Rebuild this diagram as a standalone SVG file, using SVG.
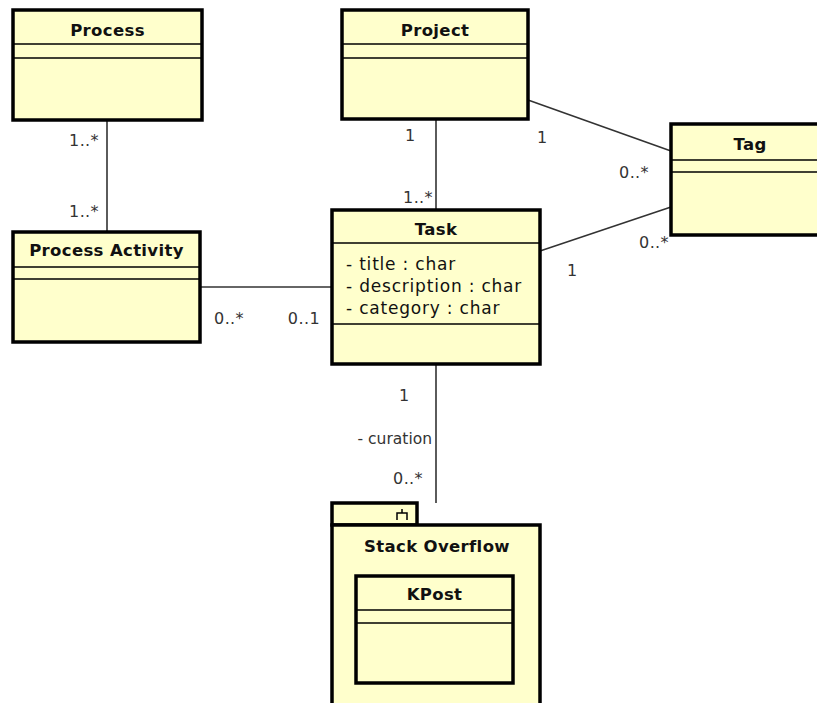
<svg xmlns="http://www.w3.org/2000/svg" width="817" height="703" viewBox="0 0 817 703">
  <style>
    .box { fill: #ffffcc; stroke: #000; stroke-width: 3.5; }
    .sep { stroke: #000; stroke-width: 1.5; fill: none; }
    .name { font-family: "DejaVu Sans", sans-serif; font-size: 16.5px; font-weight: bold; letter-spacing: 0.35px; fill: #111; text-anchor: middle; }
    .attr { font-family: "DejaVu Sans", sans-serif; font-size: 17px; letter-spacing: 0.8px; fill: #111; }
    .lbl { font-family: "DejaVu Sans", sans-serif; font-size: 16px; letter-spacing: 0.4px; fill: #333; }
    .role { letter-spacing: 0; font-size: 15.5px; }
    .end { text-anchor: end; }
    .conn line { stroke: #333; stroke-width: 1.6; }
  </style>
  <rect width="817" height="703" fill="#fff"/>

  <!-- associations -->
  <g id="connectors" class="conn">
    <line x1="107" y1="120" x2="107" y2="232"/>
    <line x1="436" y1="119" x2="436" y2="210"/>
    <line x1="528" y1="100" x2="671" y2="151"/>
    <line x1="540" y1="251" x2="671" y2="207"/>
    <line x1="200" y1="287" x2="332" y2="287"/>
    <line x1="436" y1="364" x2="436" y2="503"/>
  </g>

  <!-- multiplicities and role names -->
  <g id="labels">
    <text class="lbl end" x="99" y="146">1..*</text>
    <text class="lbl end" x="99" y="217">1..*</text>
    <text class="lbl" x="405" y="141">1</text>
    <text class="lbl end" x="433" y="203">1..*</text>
    <text class="lbl" x="537" y="143">1</text>
    <text class="lbl end" x="649" y="178">0..*</text>
    <text class="lbl end" x="669" y="248">0..*</text>
    <text class="lbl" x="567" y="276">1</text>
    <text class="lbl end" x="244" y="324">0..*</text>
    <text class="lbl end" x="320" y="324">0..1</text>
    <text class="lbl" x="399" y="401">1</text>
    <text class="lbl role end" x="432" y="444">- curation</text>
    <text class="lbl end" x="423" y="484">0..*</text>
  </g>

  <g id="process">
    <rect class="box" x="13" y="10" width="189" height="110"/>
    <line class="sep" x1="13" y1="44" x2="202" y2="44"/>
    <line class="sep" x1="13" y1="58" x2="202" y2="58"/>
    <text class="name" x="107.5" y="36">Process</text>
  </g>

  <g id="project">
    <rect class="box" x="342" y="10" width="186" height="109"/>
    <line class="sep" x1="342" y1="44" x2="528" y2="44"/>
    <line class="sep" x1="342" y1="58" x2="528" y2="58"/>
    <text class="name" x="435" y="36">Project</text>
  </g>

  <g id="tag">
    <rect class="box" x="671" y="124" width="160" height="111"/>
    <line class="sep" x1="671" y1="160" x2="831" y2="160"/>
    <line class="sep" x1="671" y1="172" x2="831" y2="172"/>
    <text class="name" x="750" y="150">Tag</text>
  </g>

  <g id="process-activity">
    <rect class="box" x="13" y="232" width="187" height="110"/>
    <line class="sep" x1="13" y1="267" x2="200" y2="267"/>
    <line class="sep" x1="13" y1="279" x2="200" y2="279"/>
    <text class="name" x="106.5" y="256">Process Activity</text>
  </g>

  <g id="task">
    <rect class="box" x="332" y="210" width="208" height="154"/>
    <line class="sep" x1="332" y1="243" x2="540" y2="243"/>
    <line class="sep" x1="332" y1="324" x2="540" y2="324"/>
    <text class="name" x="436" y="235">Task</text>
    <text class="attr" x="346" y="270">- title : char</text>
    <text class="attr" x="346" y="292">- description : char</text>
    <text class="attr" x="346" y="314">- category : char</text>
  </g>

  <g id="stack-overflow">
    <rect class="box" x="332" y="503" width="85" height="22"/>
    <path class="sep" d="M397 520 V513 H407 V520 M402 513 V509"/>
    <rect class="box" x="332" y="525" width="208" height="190"/>
    <text class="name" x="437" y="552">Stack Overflow</text>
    <g id="kpost">
      <rect class="box" x="356" y="576" width="157" height="107"/>
      <line class="sep" x1="356" y1="610" x2="513" y2="610"/>
      <line class="sep" x1="356" y1="623" x2="513" y2="623"/>
      <text class="name" x="434.5" y="600">KPost</text>
    </g>
  </g>
</svg>
